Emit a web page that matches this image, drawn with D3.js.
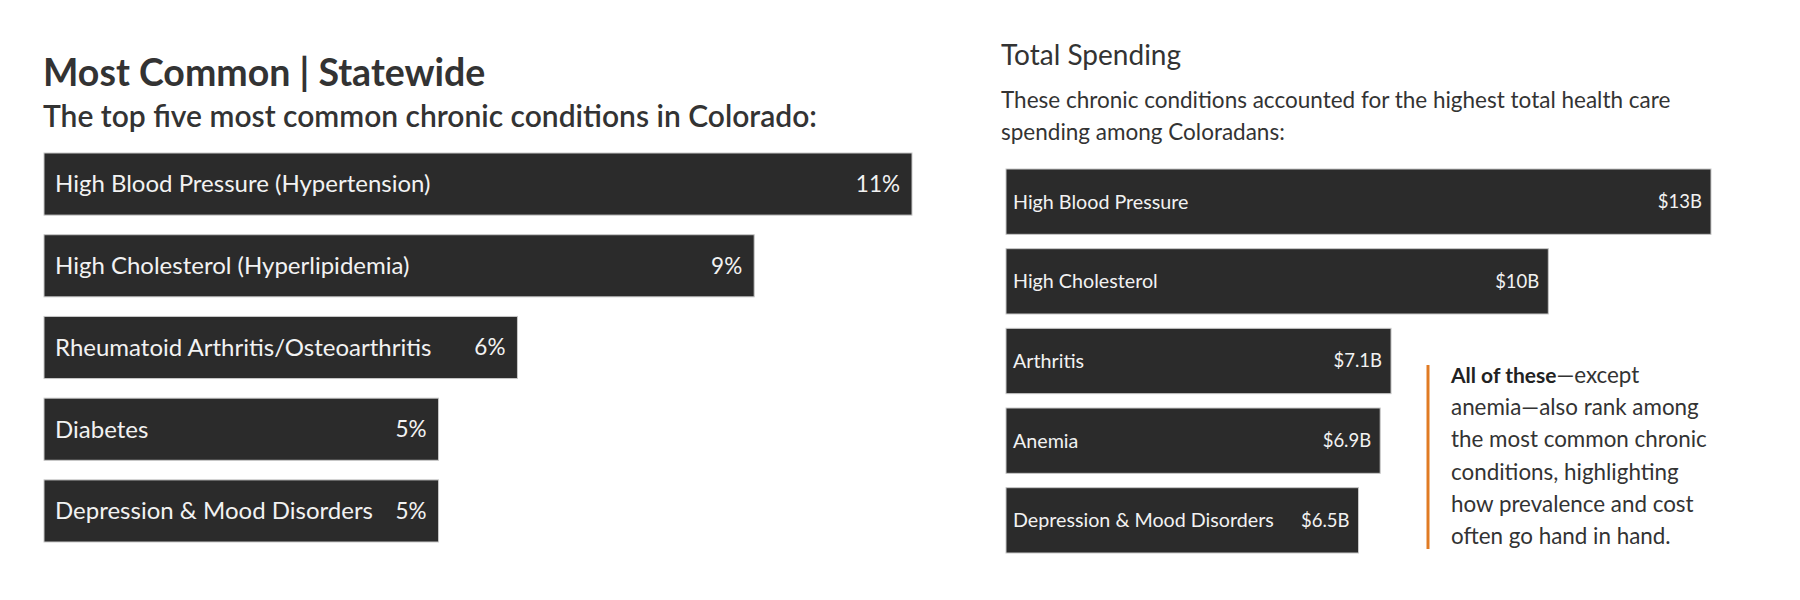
<!DOCTYPE html>
<html>
<head>
<meta charset="utf-8">
<script src="https://cdn.jsdelivr.net/npm/d3@7"></script>
<style>
    body { margin: 0; background: #fff; font-family: Lato, "Open Sans", sans-serif; }
    svg text { font-family: Lato, "Open Sans", sans-serif; }
</style>
</head>
<body>
<div id="chart"></div>
<script>
// left panel: prevalence
const commonConditions = [
    "High Blood Pressure (Hypertension)",
    "High Cholesterol (Hyperlipidemia)",
    "Rheumatoid Arthritis/Osteoarthritis",
    "Diabetes",
    "Depression & Mood Disorders"
];
const commonValues = [11, 9, 6, 5, 5];
const commonLabels = ["11%", "9%", "6%", "5%", "5%"];

// right panel: spending (billions)
const spendConditions = [
    "High Blood Pressure",
    "High Cholesterol",
    "Arthritis",
    "Anemia",
    "Depression & Mood Disorders"
];
const spendValues = [13, 10, 7.1, 6.9, 6.5];
const spendLabels = ["$13B", "$10B", "$7.1B", "$6.9B", "$6.5B"];

const noteLines = [
    [{t: "All of these", b: true}, {t: "\u2014except"}],
    [{t: "anemia\u2014also rank among"}],
    [{t: "the most common chronic"}],
    [{t: "conditions, highlighting"}],
    [{t: "how prevalence and cost"}],
    [{t: "often go hand in hand."}]
];

const width = 1800, height = 600;
const barColor = "#2b2b2b";

const svg = d3.select("#chart").append("svg")
    .attr("width", width)
    .attr("height", height);

function barPanel(g, cats, vals, labels, opts) {
    let x = d3.scaleLinear().domain([0, opts.max]).range([0, opts.w]);
    let y = d3.scaleBand().domain(cats).range(opts.yRange).paddingInner(opts.pad).paddingOuter(0);
    let data = cats.map((c, i) => ({c: c, v: vals[i], l: labels[i]}));

    let row = g.selectAll("g.row").data(data).enter().append("g")
        .attr("class", "row")
        .attr("transform", d => "translate(0," + y(d.c) + ")");

    row.append("rect")
        .attr("x", 0)
        .attr("width", d => x(d.v))
        .attr("height", y.bandwidth())
        .attr("fill", barColor)
        .attr("stroke", "#c8c8c8")
        .attr("stroke-width", 1);

    row.append("text")
        .attr("x", opts.padL)
        .attr("y", y.bandwidth() / 2)
        .attr("dy", "0.35em")
        .attr("fill", "#f2f2f2")
        .style("font-size", opts.fs + "px")
        .text(d => d.c);

    row.append("text")
        .attr("x", d => x(d.v) - opts.padR)
        .attr("y", y.bandwidth() / 2)
        .attr("dy", "0.35em")
        .attr("text-anchor", "end")
        .attr("fill", "#f2f2f2")
        .style("font-size", opts.vfs + "px")
        .text(d => d.l);
}

// ---- left
let left = svg.append("g");
left.append("text")
    .attr("x", 43)
    .attr("y", 86)
    .attr("fill", "#333")
    .style("font-size", "37.5px")
    .style("font-weight", 700)
    .text("Most Common | Statewide");
left.append("text")
    .attr("x", 43)
    .attr("y", 127)
    .attr("fill", "#333")
    .style("font-size", "30px")
    .style("font-weight", 600)
    .text("The top five most common chronic conditions in Colorado:");

barPanel(left.append("g").attr("transform", "translate(44,0)"),
    commonConditions, commonValues, commonLabels,
    {max: 11, w: 868, yRange: [153, 542], pad: 0.24, padL: 11, padR: 12, fs: 24, vfs: 22.5});

// ---- right
let right = svg.append("g");
right.append("text")
    .attr("x", 1001)
    .attr("y", 65)
    .attr("fill", "#333")
    .style("font-size", "28px")
    .text("Total Spending");
right.append("text")
    .attr("x", 1001)
    .attr("y", 108)
    .attr("fill", "#333")
    .style("font-size", "22.5px")
    .text("These chronic conditions accounted for the highest total health care");
right.append("text")
    .attr("x", 1001)
    .attr("y", 140)
    .attr("fill", "#333")
    .style("font-size", "22.5px")
    .text("spending among Coloradans:");

barPanel(right.append("g").attr("transform", "translate(1006,0)"),
    spendConditions, spendValues, spendLabels,
    {max: 13, w: 705, yRange: [169, 553], pad: 0.18, padL: 7, padR: 9, fs: 19.7, vfs: 18.5});

// ---- note
let note = svg.append("g");
note.append("line")
    .attr("x1", 1428).attr("x2", 1428)
    .attr("y1", 365).attr("y2", 549)
    .attr("stroke", "#e07b24")
    .attr("stroke-width", 3);

let lines = note.selectAll("text.note").data(noteLines).enter().append("text")
    .attr("class", "note")
    .attr("x", 1451)
    .attr("y", (d, i) => 383 + i * 32.2)
    .attr("fill", "#333")
    .style("font-size", "22.4px");
lines.selectAll("tspan").data(d => d).enter().append("tspan")
    .style("font-weight", d => d.b ? 700 : 400)
    .style("font-size", d => d.b ? "21px" : null)
    .attr("fill", d => d.b ? "#222" : null)
    .text(d => d.t);
</script>
</body>
</html>
